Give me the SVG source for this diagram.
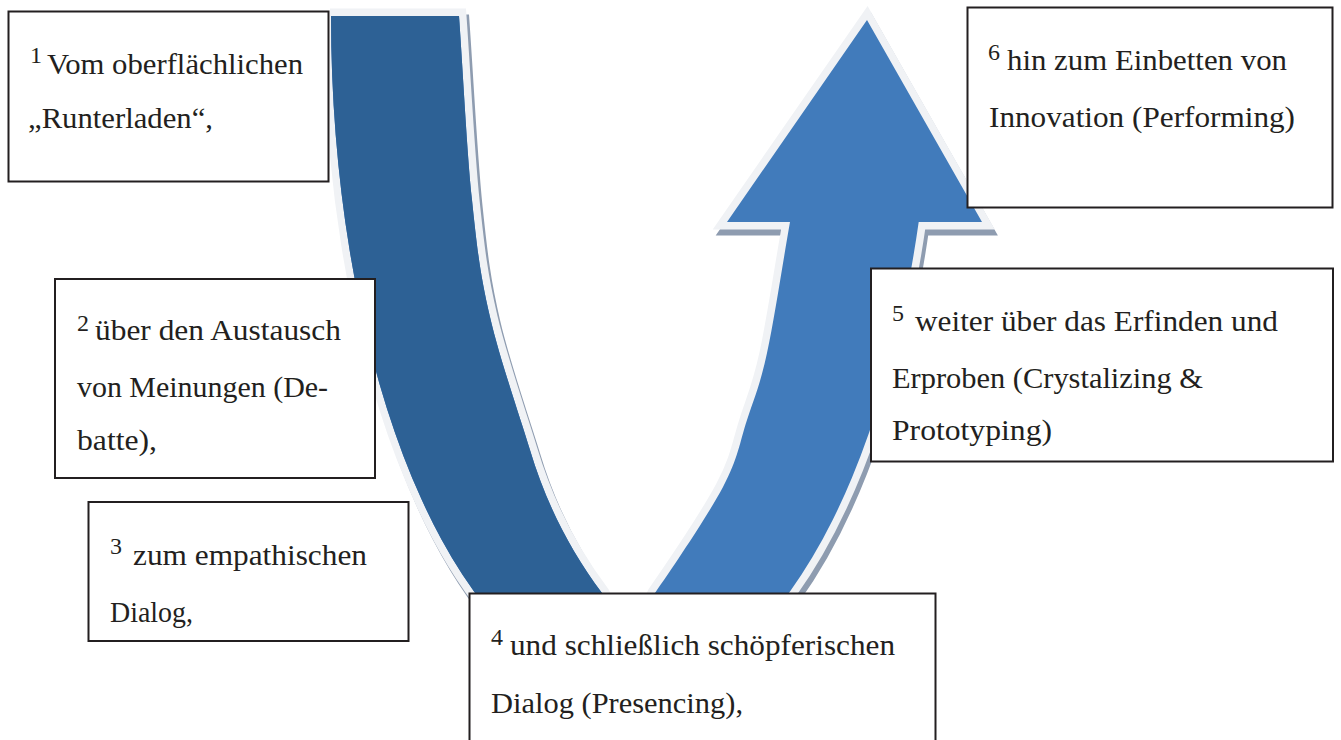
<svg xmlns="http://www.w3.org/2000/svg" xmlns:xlink="http://www.w3.org/1999/xlink" width="1341" height="740" viewBox="0 0 1341 740">
<style>
.box{fill:#ffffff;stroke:#231f20;stroke-width:2}
.t{font-family:"Liberation Serif","Times New Roman",serif;font-size:30px;fill:#231f20}
.s{font-family:"Liberation Serif","Times New Roman",serif;font-size:24px;fill:#231f20}
.shadow{fill:#8e9cb0;stroke:#8e9cb0;stroke-width:15;stroke-linejoin:miter;stroke-miterlimit:4}
.rim{fill:#f0f2f5;stroke:#f0f2f5;stroke-width:15;stroke-linejoin:miter;stroke-miterlimit:4}
.light{fill:#417bbb}
.dark{fill:#2d6195}
</style>
<defs>
<path id="uShape" d="M331,16 L459,16 C463.3,77.3 466.8,149.8 472,200 C477.2,250.2 480.3,275.3 490,317 C499.7,358.7 520,417 530,450 C545,500 568.2,548 602,593 L628,648 L655,593 C673.8,565.8 707.7,515.8 723,487 C738.3,458.2 739.7,442.3 747,420 C754.3,397.7 759.8,386 767,353 C774.2,320 782.3,265.7 790,222 L727,222 L867,20 L982,222 L918.7,222 A301,676 0 0 1 331,16 Z"/>
<clipPath id="clipPage"><rect x="330" y="0" width="1011" height="740"/></clipPath>
<clipPath id="clipDark"><rect x="0" y="0" width="628" height="740"/></clipPath>
</defs>
<g id="connectors">
<g id="u-arrow" clip-path="url(#clipPage)">
<use xlink:href="#uShape" class="shadow" transform="translate(3,6)"/>
<use xlink:href="#uShape" class="rim"/>
<use xlink:href="#uShape" class="light"/>
<use xlink:href="#uShape" class="dark" clip-path="url(#clipDark)"/>
</g>
</g>
<g id="node1">
<rect class="box" x="8.5" y="11.5" width="320" height="170"/>
<text class="s" x="30" y="63">1</text>
<text class="t" x="47" y="74" textLength="256" lengthAdjust="spacingAndGlyphs">Vom oberflächlichen</text>
<text class="t" x="28" y="128" textLength="185" lengthAdjust="spacingAndGlyphs">„Runterladen“,</text>
</g>
<g id="node2">
<rect class="box" x="55" y="279" width="320" height="199"/>
<text class="s" x="77" y="331">2</text>
<text class="t" x="95" y="340" textLength="246" lengthAdjust="spacingAndGlyphs">über den Austausch</text>
<text class="t" x="77" y="397" textLength="251" lengthAdjust="spacingAndGlyphs">von Meinungen (De-</text>
<text class="t" x="77" y="450" textLength="80" lengthAdjust="spacingAndGlyphs">batte),</text>
</g>
<g id="node3">
<rect class="box" x="88.5" y="502" width="320" height="139"/>
<text class="s" x="110" y="554">3</text>
<text class="t" x="133" y="565" textLength="234" lengthAdjust="spacingAndGlyphs">zum empathischen</text>
<text class="t" x="110" y="622" textLength="83" lengthAdjust="spacingAndGlyphs">Dialog,</text>
</g>
<g id="node4">
<rect class="box" x="469.5" y="593.5" width="466" height="170"/>
<text class="s" x="491" y="645">4</text>
<text class="t" x="510" y="655" textLength="385" lengthAdjust="spacingAndGlyphs">und schließlich schöpferischen</text>
<text class="t" x="491" y="713" textLength="252" lengthAdjust="spacingAndGlyphs">Dialog (Presencing),</text>
</g>
<g id="node5">
<rect class="box" x="871" y="268.5" width="462" height="193"/>
<text class="s" x="892" y="321">5</text>
<text class="t" x="915" y="331" textLength="363" lengthAdjust="spacingAndGlyphs">weiter über das Erfinden und</text>
<text class="t" x="892" y="388" textLength="311" lengthAdjust="spacingAndGlyphs">Erproben (Crystalizing &amp;</text>
<text class="t" x="892" y="440" textLength="160" lengthAdjust="spacingAndGlyphs">Prototyping)</text>
</g>
<g id="node6">
<rect class="box" x="967.5" y="7.5" width="365" height="200"/>
<text class="s" x="988" y="60">6</text>
<text class="t" x="1007" y="70" textLength="280" lengthAdjust="spacingAndGlyphs">hin zum Einbetten von</text>
<text class="t" x="989" y="127" textLength="306" lengthAdjust="spacingAndGlyphs">Innovation (Performing)</text>
</g>
</svg>
